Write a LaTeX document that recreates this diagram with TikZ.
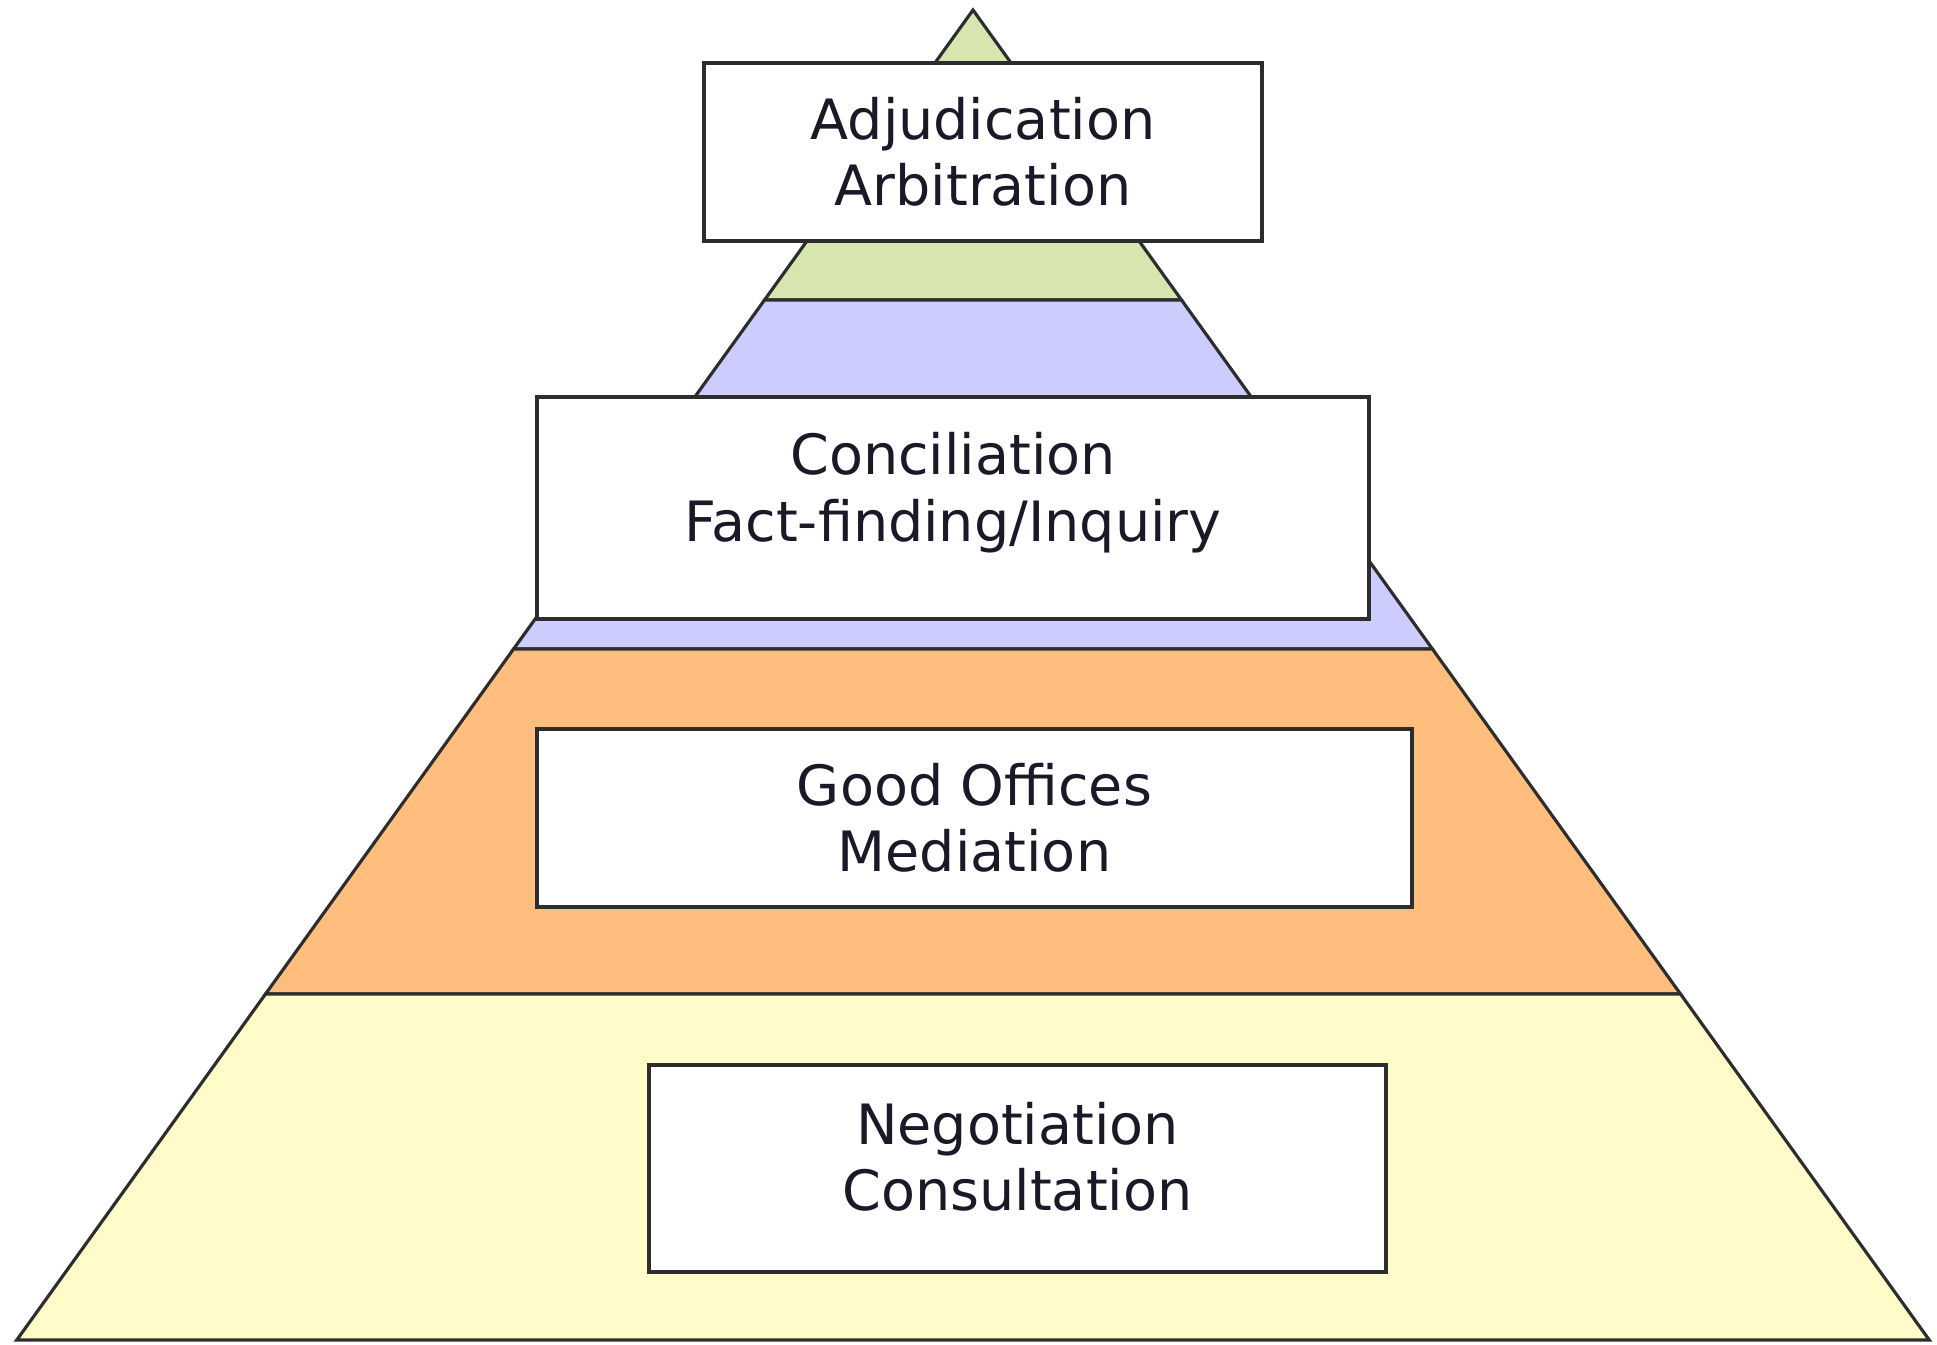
\documentclass[tikz,border=0pt]{standalone}
\usepackage{fontspec}
\setmainfont{DejaVu Sans}
\definecolor{adjgreen}{RGB}{215,230,174}
\definecolor{concblue}{RGB}{204,204,255}
\definecolor{medorange}{RGB}{255,190,126}
\definecolor{negyellow}{RGB}{255,252,202}
\definecolor{edgegray}{RGB}{45,45,45}
\definecolor{txtcol}{RGB}{25,25,40}
\tikzset{
  band/.style={draw=edgegray, line width=0.9pt, line join=miter},
  stagebox/.style={draw=edgegray, line width=1.2pt, fill=white, align=center,
    text=txtcol, font=\fontsize{15.8}{18.8}\selectfont, inner sep=0pt}
}
\begin{document}
\begin{tikzpicture}[x=0.01cm, y=-0.01cm]
    \useasboundingbox (0, 0) rectangle (1937, 1344);
    \pgfmathsetmacro{\xc}{973};
    \pgfmathsetmacro{\s}{0.719};
    % pyramid, top to bottom
    \foreach \ya/\yb/\col in {10/300/adjgreen, 300/649/concblue, 649/994/medorange, 994/1340/negyellow} {
        \draw [band, fill=\col] ({\xc-\s*(\ya-10)}, \ya) -- ({\xc+\s*(\ya-10)}, \ya)
            -- ({\xc+\s*(\yb-10)}, \yb) -- ({\xc-\s*(\yb-10)}, \yb) -- cycle;
    }
    \node [stagebox, minimum width=5.58cm, minimum height=1.78cm] (adj) at (983, 152) {Adjudication\\Arbitration};
    \node [stagebox, minimum width=8.32cm, minimum height=2.22cm, text depth=12pt] (conc) at (953, 508) {Conciliation\\Fact-finding/Inquiry};
    \node [stagebox, minimum width=8.75cm, minimum height=1.78cm] (good) at (974.5, 818) {Good Offices\\Mediation};
    \node [stagebox, minimum width=7.37cm, minimum height=2.07cm, text depth=7pt] (neg) at (1017.5, 1168.5) {Negotiation\\Consultation};
\end{tikzpicture}
\end{document}
